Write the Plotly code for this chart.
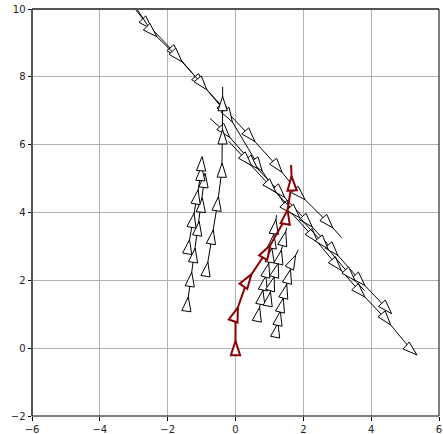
import math
import plotly.graph_objects as go

# ---------------- data (marker centres, bare start / end of each path) -------------
x_ticks = [-6, -4, -2, 0, 2, 4, 6]
y_ticks = [-2, 0, 2, 4, 6, 8, 10]

red_x = [0.0, 0.0, 0.35, 0.92, 1.50, 1.66]
red_y = [0.0, 1.0, 2.00, 2.85, 3.87, 4.86]
red_start = None
red_end = (1.64, 5.4)

v1_x = [-0.85, -0.69, -0.53, -0.40, -0.38, -0.38]
v1_y = [2.33, 3.28, 4.26, 5.25, 6.23, 7.21]
v1_start = None
v1_end = (-0.38, 7.7)

l1_x = [-1.42, -1.32, -1.22, -1.10, -1.00, -0.92]
l1_y = [1.30, 2.03, 2.74, 3.53, 4.22, 4.95]
l1_start = None
l1_end = None

l2_x = [-1.39, -1.26, -1.14, -1.02, -1.00]
l2_y = [2.99, 3.77, 4.46, 5.15, 5.44]
l2_start = None
l2_end = None

r1_x = [0.67, 0.77, 0.85, 0.93, 1.04, 1.10, 1.16]
r1_y = [1.00, 1.50, 1.92, 2.30, 2.74, 3.15, 3.58]
r1_start = None
r1_end = (1.21, 3.92)

r2_x = [1.21, 1.28, 1.36, 1.46, 1.57, 1.68]
r2_y = [0.53, 0.88, 1.27, 1.68, 2.12, 2.55]
r2_start = None
r2_end = (1.85, 2.90)

r3_x = [0.99, 1.08, 1.20, 1.31, 1.43]
r3_y = [1.45, 1.90, 2.30, 2.69, 3.23]
r3_start = None
r3_end = (1.51, 3.55)

d1_x = [-2.60, -1.78, -1.05, -0.30, 0.43, 1.24, 1.90, 2.73]
d1_y = [9.55, 8.70, 7.85, 7.02, 6.25, 5.35, 4.53, 3.70]
d1_start = (-3.20, 10.3)
d1_end = (3.13, 3.26)

d2_x = [-2.47, -1.72, -0.98, -0.20, 0.67, 1.55, 2.29, 2.98, 3.67, 4.44, 5.19]
d2_y = [9.33, 8.60, 7.78, 6.85, 5.39, 4.10, 3.28, 2.45, 1.66, 0.85, -0.06]
d2_start = (-3.10, 10.3)
d2_end = (5.35, -0.20)

e_x = [-0.31, 0.50, 1.31, 2.12, 2.88, 3.67, 4.46]
e_y = [6.38, 5.45, 4.60, 3.73, 2.89, 2.00, 1.17]
e_start = (-0.75, 6.77)
e_end = (4.60, 1.02)

h_x = [0.33, 1.05, 1.75, 2.59, 3.38]
h_y = [5.54, 4.75, 4.00, 3.09, 2.15]
h_start = (-0.20, 6.10)
h_end = (3.80, 1.70)

# ---------------- layout constants ----------------
W, H = 443, 434
ML, MR, MT, MB = 32, 4, 9, 18
PW, PH = W - ML - MR, H - MT - MB
SX = PW / (x_ticks[-1] - x_ticks[0])
SY = PH / (y_ticks[-1] - y_ticks[0])

MSIZE = 15
HALF_H = 1.902 * (MSIZE / 2) / 2  # half height of plotly 'arrow' symbol in px

fig = go.Figure()


def add_path(xs, ys, start, end, color, lw, mlw):
    px_ = ([start[0]] if start else []) + list(xs) + ([end[0]] if end else [])
    py_ = ([start[1]] if start else []) + list(ys) + ([end[1]] if end else [])
    fig.add_trace(go.Scatter(x=px_, y=py_, mode="lines",
                             line=dict(color=color, width=lw),
                             hoverinfo="skip", showlegend=False))
    off = 1 if start else 0
    tx, ty, ang = [], [], []
    for i in range(len(xs)):
        j = off + i
        if j + 1 < len(px_):
            dx, dy = px_[j + 1] - px_[j], py_[j + 1] - py_[j]
        else:
            dx, dy = px_[j] - px_[j - 1], py_[j] - py_[j - 1]
        dxp, dyp = dx * SX, dy * SY
        n = math.hypot(dxp, dyp) or 1.0
        ang.append(math.degrees(math.atan2(dxp, dyp)))
        # plotly's arrow symbol is anchored at its tip: shift so the symbol is centred
        tx.append(xs[i] + HALF_H * dxp / n / SX)
        ty.append(ys[i] + HALF_H * dyp / n / SY)
    fig.add_trace(go.Scatter(x=tx, y=ty, mode="markers",
                             marker=dict(symbol="arrow", size=MSIZE, angle=ang,
                                         color="white",
                                         line=dict(color=color, width=mlw)),
                             hoverinfo="skip", showlegend=False))


BLACK = "black"
RED = "#8b0000"
for xs, ys, s, e in [
    (d1_x, d1_y, d1_start, d1_end),
    (d2_x, d2_y, d2_start, d2_end),
    (e_x, e_y, e_start, e_end),
    (h_x, h_y, h_start, h_end),
    (v1_x, v1_y, v1_start, v1_end),
    (l1_x, l1_y, l1_start, l1_end),
    (l2_x, l2_y, l2_start, l2_end),
    (r1_x, r1_y, r1_start, r1_end),
    (r2_x, r2_y, r2_start, r2_end),
    (r3_x, r3_y, r3_start, r3_end),
]:
    add_path(xs, ys, s, e, BLACK, 1, 1)

add_path(red_x, red_y, red_start, red_end, RED, 2, 2)

axis_common = dict(showgrid=True, gridcolor="#b0b0b0", gridwidth=0.8,
                   zeroline=False, showline=False, ticks="outside",
                   ticklen=3.5, tickwidth=0.8, tickcolor="black",
                   automargin=False,
                   tickfont=dict(family="DejaVu Sans", size=10, color="#222"))

fig.update_layout(
    width=W, height=H, autosize=False,
    margin=dict(l=ML, r=MR, t=MT, b=MB, pad=0),
    plot_bgcolor="white", paper_bgcolor="white",
    xaxis=dict(range=[x_ticks[0], x_ticks[-1]], tickvals=x_ticks, **axis_common),
    yaxis=dict(range=[y_ticks[0], y_ticks[-1]], tickvals=y_ticks, **axis_common),
    shapes=[
        dict(type="line", xref="paper", yref="paper", x0=0, x1=0, y0=0, y1=1,
             line=dict(color="#555", width=2), layer="above"),
        dict(type="line", xref="paper", yref="paper", x0=0, x1=1, y0=1, y1=1,
             line=dict(color="#555", width=2), layer="above"),
        dict(type="line", xref="paper", yref="paper", x0=0, x1=1, y0=0, y1=0,
             line=dict(color="black", width=1), layer="above"),
        dict(type="line", xref="paper", yref="paper", x0=1, x1=1, y0=0, y1=1,
             line=dict(color="black", width=1), layer="above"),
    ],
)

fig.write_html("out.html",
               config={"displayModeBar": False},
               post_script="document.body.style.margin='0';"
                           "document.body.style.overflow='hidden';")
